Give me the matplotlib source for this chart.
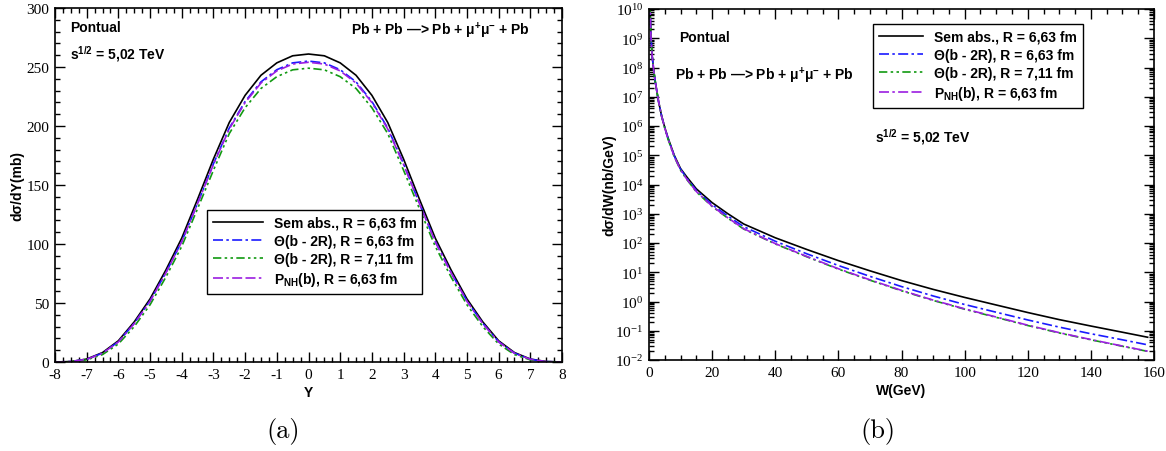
import matplotlib
matplotlib.use("Agg")
import numpy as np
import matplotlib.pyplot as plt
from matplotlib.ticker import MultipleLocator, LogLocator, NullFormatter, FuncFormatter

# ---- data ----
# (a) dsigma/dY (mb) vs Y
Y = [-8, -7.5, -7, -6.5, -6, -5.5, -5, -4.5, -4, -3.5, -3, -2.5, -2, -1.5, -1, -0.5,
     0, 0.5, 1, 1.5, 2, 2.5, 3, 3.5, 4, 4.5, 5, 5.5, 6, 6.5, 7, 7.5, 8]
semabs_Y = [0, 0.4, 2.5, 8, 18, 34, 53.5, 78, 105, 138, 172, 203, 226, 243, 253.5, 259.5,
            261, 259.5, 253.5, 243, 226, 203, 172, 138, 105, 78, 53.5, 34, 18, 8, 2.5, 0.4, 0]
theta663_Y = [0, 0.35, 2.3, 7.5, 17.2, 32.8, 51.8, 75.8, 102.2, 134.5, 168, 198.3, 220.8, 237.4, 247.7, 253.5,
              255, 253.5, 247.7, 237.4, 220.8, 198.3, 168, 134.5, 102.2, 75.8, 51.8, 32.8, 17.2, 7.5, 2.3, 0.35, 0]
theta711_Y = [0, 0.25, 1.8, 6.3, 15.3, 30, 48.5, 72, 98, 130, 162.5, 193.6, 215.5, 231.8, 241.8, 247.6,
              249, 247.6, 241.8, 231.8, 215.5, 193.6, 162.5, 130, 98, 72, 48.5, 30, 15.3, 6.3, 1.8, 0.25, 0]
pnh663_Y = [0, 0.35, 2.3, 7.4, 17, 32.5, 51.4, 75.5, 101.9, 134.3, 167.4, 197.5, 219.9, 236.4, 246.7, 252.5,
            254, 252.5, 246.7, 236.4, 219.9, 197.5, 167.4, 134.3, 101.9, 75.5, 51.4, 32.5, 17, 7.4, 2.3, 0.35, 0]

# (b) dsigma/dW (nb/GeV) vs W (GeV)
W = [0.3, 0.4, 0.6, 1, 1.5, 2, 3, 4, 5, 6, 8, 10, 12, 15, 20, 25, 30, 40, 50, 60,
     70, 80, 90, 100, 110, 120, 130, 140, 150, 158]
semabs_W = [3.2e10, 6.3e9, 1.26e9, 2.5e8, 7.9e7, 3.2e7, 7.1e6, 2.2e6, 8.9e5, 4.0e5, 1.0e5, 3.5e4,
            1.8e4, 7.1e3, 2.4e3, 1.0e3, 447, 151, 60, 25, 11.2, 5.2, 2.6, 1.38, 0.76, 0.42,
            0.24, 0.145, 0.089, 0.060]
theta663_W = [3.2e10, 6.3e9, 1.26e9, 2.5e8, 7.9e7, 3.2e7, 7.1e6, 2.2e6, 8.8e5, 3.9e5, 9.5e4, 3.3e4,
              1.64e4, 6.3e3, 2.04e3, 832, 363, 115, 42.7, 17.0, 7.24, 3.24, 1.55, 0.79, 0.43, 0.234,
              0.133, 0.079, 0.049, 0.033]
theta711_W = [3.2e10, 6.3e9, 1.26e9, 2.5e8, 7.9e7, 3.2e7, 7.1e6, 2.15e6, 8.4e5, 3.6e5, 8.9e4, 3.08e4,
              1.47e4, 5.6e3, 1.77e3, 705, 300, 93, 33.8, 12.8, 5.35, 2.33, 1.09, 0.545, 0.287, 0.151,
              0.084, 0.049, 0.0295, 0.0197]
pnh663_W = [3.2e10, 6.3e9, 1.26e9, 2.5e8, 7.9e7, 3.2e7, 7.1e6, 2.15e6, 8.5e5, 3.7e5, 9.1e4, 3.16e4,
            1.51e4, 5.75e3, 1.82e3, 724, 309, 95.5, 34.7, 13.2, 5.5, 2.4, 1.12, 0.56, 0.295, 0.155,
            0.086, 0.050, 0.030, 0.020]

labels = ["Sem abs., R = 6,63 fm",
          "\u0398(b - 2R), R = 6,63 fm",
          "\u0398(b - 2R), R = 7,11 fm",
          r"P$_{\mathsf{NH}}$(b), R = 6,63 fm"]
colors = ["black", "#1a1aff", "#119911", "#9b1ee0"]
styles = ["-", (0, (6, 2, 1.5, 2)), (0, (5, 2, 1.5, 2, 1.5, 2)), (0, (6, 2, 1.5, 2, 6, 2))]

plt.rcParams["axes.unicode_minus"] = False
plt.rcParams["mathtext.fontset"] = "custom"
plt.rcParams["mathtext.rm"] = "Liberation Serif"
plt.rcParams["mathtext.sf"] = "Liberation Sans:bold"
plt.rcParams["mathtext.bf"] = "Liberation Sans:bold"

bold = dict(family="Liberation Sans", weight="bold", size=10)
W_FIG, H_FIG = 1166, 452


def px(x, y):
    return x / W_FIG, 1 - y / H_FIG


fig = plt.figure(figsize=(W_FIG / 100, H_FIG / 100), dpi=100)
axA = fig.add_axes([55 / W_FIG, 1 - 363 / H_FIG, 507 / W_FIG, 354 / H_FIG])
axB = fig.add_axes([649 / W_FIG, 1 - 361 / H_FIG, 505 / W_FIG, 351 / H_FIG])

for ax in (axA, axB):
    for s in ax.spines.values():
        s.set_linewidth(1.2)
    ax.tick_params(which="both", direction="in", top=True, right=True, width=1,
                   labelsize=11, labelfontfamily="Liberation Serif", pad=4)
    ax.tick_params(which="major", length=7)
    ax.tick_params(which="minor", length=3.5)

# ---- panel (a) ----
for yv, lab, c, ls in zip([semabs_Y, theta663_Y, theta711_Y, pnh663_Y], labels, colors, styles):
    axA.plot(Y, yv, color=c, ls=ls, lw=1.2, label=lab)
axA.set_xlim(-8, 8)
axA.set_ylim(0, 300)
axA.xaxis.set_major_locator(MultipleLocator(1))
axA.xaxis.set_minor_locator(MultipleLocator(0.25))
axA.yaxis.set_major_locator(MultipleLocator(50))
axA.yaxis.set_minor_locator(MultipleLocator(10))
axA.set_xlabel("Y", **bold)
axA.set_ylabel("d\u03c3/dY(mb)", **bold)
axA.xaxis.set_label_coords(0.5, -0.065)
axA.yaxis.set_label_coords(-0.06, 0.5)
legA = axA.legend(loc="upper left", bbox_to_anchor=(0.300, 0.429), borderaxespad=0,
                  prop=dict(family="Liberation Sans", weight="bold", size=10),
                  handlelength=3.6, handletextpad=0.8, labelspacing=0.3, borderpad=0.4,
                  fancybox=False, framealpha=1, edgecolor="black")
legA.get_frame().set_linewidth(1.0)

fig.text(*px(70, 28), "Pontual", va="center", ha="left", **bold)
fig.text(*px(70, 59), r"s$^{\mathsf{1/2}}$ = 5,02 TeV", va="baseline", ha="left", **bold)
fig.text(*px(530, 31), "Pb + Pb \u2014> Pb + \u03bc$^{\\mathsf{+}}$\u03bc$^{\\mathsf{-}}$ + Pb",
         va="center", ha="right", **bold)

# ---- panel (b) ----
for yv, lab, c, ls in zip([semabs_W, theta663_W, theta711_W, pnh663_W], labels, colors, styles):
    axB.plot(W, yv, color=c, ls=ls, lw=1.2, label=lab)
axB.set_yscale("log")
axB.set_xlim(0, 160)
axB.set_ylim(1e-2, 1e10)
axB.xaxis.set_major_locator(MultipleLocator(20))
axB.xaxis.set_minor_locator(MultipleLocator(5))
axB.yaxis.set_major_locator(LogLocator(base=10, numticks=20))
axB.yaxis.set_minor_locator(LogLocator(base=10, subs=range(2, 10), numticks=20))
axB.yaxis.set_minor_formatter(NullFormatter())
axB.yaxis.set_major_formatter(FuncFormatter(lambda v, p: r"$\mathrm{10^{%d}}$" % round(np.log10(v))))
axB.set_xlabel("W(GeV)", **bold)
axB.set_ylabel("d\u03c3/dW(nb/GeV)", **bold)
axB.xaxis.set_label_coords(0.5, -0.065)
axB.yaxis.set_label_coords(-0.065, 0.5)
legB = axB.legend(loc="upper left", bbox_to_anchor=(0.4436, 0.957), borderaxespad=0,
                  prop=dict(family="Liberation Sans", weight="bold", size=10),
                  handlelength=3.2, handletextpad=0.8, labelspacing=0.3, borderpad=0.4,
                  fancybox=False, framealpha=1, edgecolor="black")
legB.get_frame().set_linewidth(1.0)

fig.text(*px(679, 38), "Pontual", va="center", ha="left", **bold)
fig.text(*px(675, 76), "Pb + Pb \u2014> Pb + \u03bc$^{\\mathsf{+}}$\u03bc$^{\\mathsf{-}}$ + Pb",
         va="center", ha="left", **bold)
fig.text(*px(875, 142), r"s$^{\mathsf{1/2}}$ = 5,02 TeV", va="baseline", ha="left", **bold)

# sub-figure tags
fig.text(*px(283, 432), "(a)", family="cmr10", size=19, ha="center", va="center")
fig.text(*px(878, 432), "(b)", family="cmr10", size=19, ha="center", va="center")

fig.savefig("out.png", dpi=100)
